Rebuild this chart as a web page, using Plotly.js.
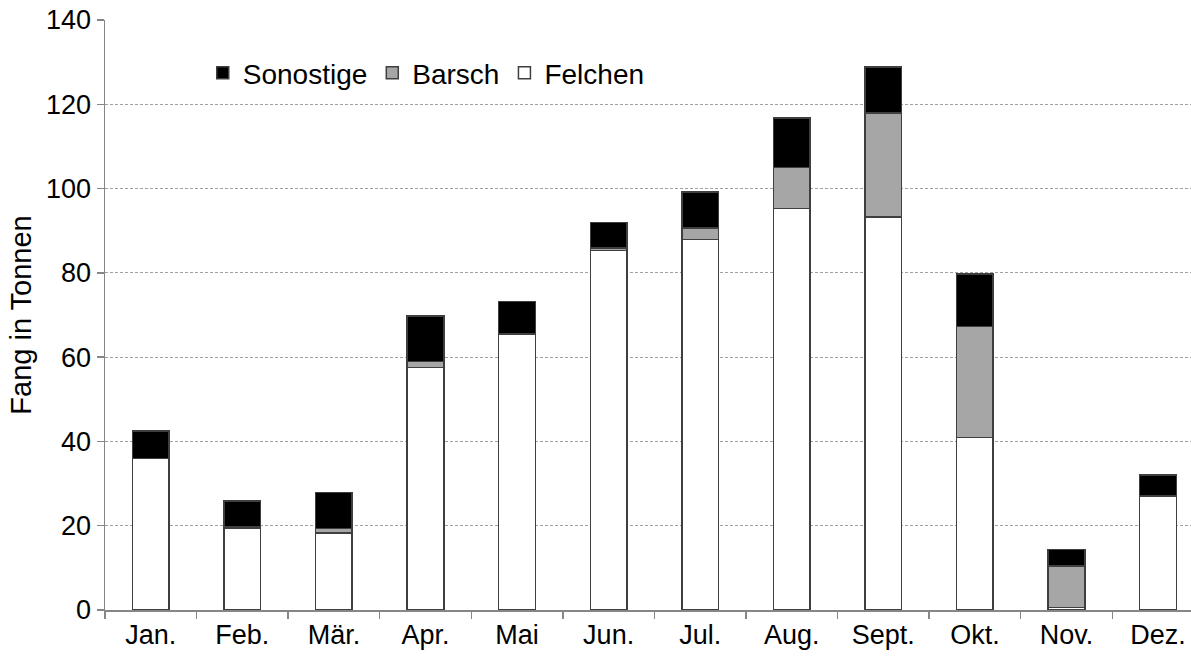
<!DOCTYPE html>
<html>
<head>
<meta charset="utf-8">
<script src="https://cdn.plot.ly/plotly-3.0.1.min.js"></script>
<style>html,body{margin:0;padding:0;background:#fff;}#chart{width:1191px;height:662px;}</style>
</head>
<body>
<div id="chart"></div>
<script>
var months = ["Jan.", "Feb.", "Mär.", "Apr.", "Mai", "Jun.", "Jul.", "Aug.", "Sept.", "Okt.", "Nov.", "Dez."];
var felchen = [36.0, 19.4, 18.3, 57.5, 65.5, 85.3, 87.9, 95.3, 93.3, 40.9, 0.6, 27.0];
var barsch = [0, 0.4, 1.0, 1.5, 0, 0.6, 2.7, 9.7, 24.6, 26.4, 9.8, 0];
var sonstige = [6.5, 6.1, 8.6, 10.8, 7.7, 6.0, 8.6, 11.8, 11.0, 12.4, 4.0, 5.0];
var yTicks = [0, 20, 40, 60, 80, 100, 120, 140];

var lineStyle = {color: "#3f3f3f", width: 1.5};
function series(name, vals, color) {
  return {type: "bar", name: name, x: months, y: vals, width: 0.4,
    marker: {color: color, line: lineStyle}, hoverinfo: "x+y+name"};
}
var data = [
  series("Felchen", felchen, "#ffffff"),
  series("Barsch", barsch, "#a6a6a6"),
  series("Sonostige", sonstige, "#000000")
];
var font = "Liberation Sans, Arial, sans-serif";
var layout = {
  width: 1191, height: 662,
  margin: {l: 105, r: 0, t: 20, b: 52},
  paper_bgcolor: "#ffffff", plot_bgcolor: "#ffffff",
  barmode: "stack",
  font: {family: font, size: 27, color: "#000"},
  showlegend: true,
  legend: {orientation: "h", traceorder: "reversed", x: 0.09, y: 0.91, xanchor: "left", yanchor: "middle",
    bgcolor: "rgba(0,0,0,0)", font: {family: font, size: 28, color: "#000"}, itemclick: false},
  xaxis: {type: "category", range: [-0.5, 11.36], showgrid: false, showline: true, linecolor: "#868686", linewidth: 1.5,
    ticks: "outside", tickson: "boundaries", ticklen: 7, tickcolor: "#868686", tickwidth: 1.5,
    tickfont: {family: font, size: 27, color: "#000"}, fixedrange: true, zeroline: false},
  yaxis: {range: [0, 140], tickvals: yTicks, ticktext: yTicks.map(String), showgrid: true, gridcolor: "#a0a0a0", griddash: "3px,2px", gridwidth: 1,
    showline: true, linecolor: "#868686", linewidth: 1.5, ticks: "outside", ticklen: 7, tickcolor: "#868686", tickwidth: 1.5,
    zeroline: false, tickfont: {family: font, size: 27, color: "#000"},
    title: {text: "Fang in Tonnen", font: {family: font, size: 29, color: "#000"}, standoff: 6}, fixedrange: true}
};
Plotly.newPlot("chart", data, layout, {displayModeBar: false, staticPlot: true});
</script>
</body>
</html>
